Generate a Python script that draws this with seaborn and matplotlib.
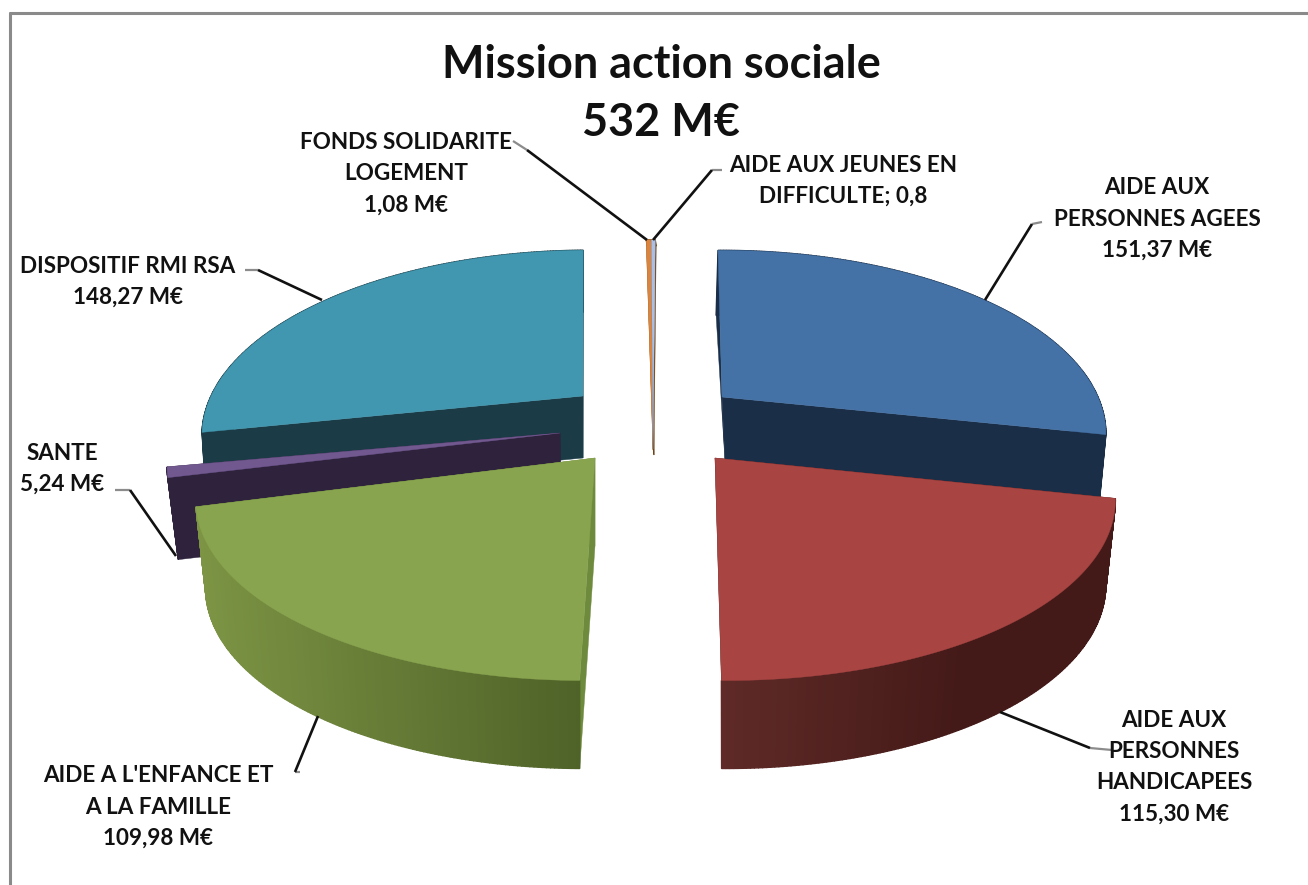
import numpy as np
import matplotlib
matplotlib.use("Agg")
import matplotlib.pyplot as plt
import seaborn as sns

# --- data
names = ["AIDE AUX\nPERSONNES AGEES", "AIDE AUX\nPERSONNES\nHANDICAPEES",
         "AIDE A L'ENFANCE ET\nA LA FAMILLE", "SANTE", "DISPOSITIF RMI RSA",
         "FONDS SOLIDARITE\nLOGEMENT", "AIDE AUX JEUNES EN\nDIFFICULTE"]
values = [151.37, 115.30, 109.98, 5.24, 148.27, 1.08, 0.8]
title_lines = ["Mission action sociale", "532 M€"]

# --- style
top_colors = ["#4472A6", "#A84442", "#88A44F", "#71588F", "#4197AF", "#DB843D", "#A9BFE6"]
wall_left = ["#1B2E47", "#5F2A27", "#7C9444", "#2E223D", "#1B3B47", "#6E4215", "#6E4215"]
wall_right = ["#1B2E47", "#441A18", "#4F6228", "#2E223D", "#1B3B47", "#6E4215", "#6E4215"]
face_colors = ["#1B2E47", "#441A18", "#6E8A3C", "#2E223D", "#1B3B47", "#6E4215", "#6E4215"]
shade_span = [None, (722, 952), (205, 580), None, None, None, None]
persp = 0.2
#            cx,  cy,  rx,  ry, depth, dx, k,  turn, shear, shear_bottom
geometry = [(722, 397, 376, 176, 65, 3, 0.973, 0.7, 0.7, 5.7),
            (715, 458, 390, 178, 88, 7, 0.962, 0.0, 11.0, 4.0),
            (595, 458, 389, 178, 88, 0, 0.975, 0.0, -10.8, -10.8),
            (560, 433, 385, 163, 82, 1, 0.975, 0.0, 0.0, -1.0),
            (583, 396, 372, 175, 62, 0, 0.990, 0.0, -6.5, -6.5),
            (653, 449, 486, 251, 6, 1, 1.0, 0.0, -1.5, -1.5),
            (653, 449, 486, 251, 6, 1, 1.0, 0.0, -1.5, -1.5)]
draw_order = [0, 4, 5, 6, 3, 1, 2]
start_angle = 89.9

sns.set_theme(style="white", rc={"axes.facecolor": "white", "figure.facecolor": "white"})
plt.rcParams["font.family"] = ["Lato", "DejaVu Sans"]

fig = plt.figure(figsize=(13.08, 8.85), dpi=100)
ax = fig.add_axes([0, 0, 1, 1])
ax.set_xlim(0, 1308)
ax.set_ylim(885, 0)
ax.axis("off")

sweep = np.array(values) / np.sum(values) * 360
ends = start_angle - np.cumsum(sweep)
starts = ends + sweep


def arc(theta, g, bottom=False):
    cx, cy, rx, ry, depth, dx, k, turn, sh, shb = g
    t = np.radians(theta)
    s, c = np.sin(t), np.cos(t)
    w = 1 + persp * s
    if bottom:
        return cx + dx + k * rx * c / w - shb * s, cy + depth - ry * s / w
    return cx + rx * c / w - sh * s, cy - ry * s / w


for layer, i in enumerate(draw_order):
    g = geometry[i]
    z = layer + 1
    a0, a1 = starts[i] + g[7], ends[i] + g[7]
    # radial faces
    for a in (a0, a1):
        xa, ya = arc(a, g)
        xc, yc = arc(a, g, bottom=True)
        ax.fill([g[0], xa, xc, g[0] + g[5]], [g[1], ya, yc, g[1] + g[4]],
                color=face_colors[i], lw=0.3, zorder=z)
    # outer wall: strips shaded from left to right of the picture
    n = max(2, int(abs(a0 - a1)) * 2)
    th = np.linspace(a0, a1, n + 1)
    xt, yt = arc(th, g)
    xb, yb = arc(th, g, bottom=True)
    pal = sns.blend_palette([wall_left[i], wall_right[i]], 200)
    lo, hi = shade_span[i] if shade_span[i] else (0, 1)
    for j in range(n):
        mid = 0.5 * (xb[j] + xb[j + 1])
        col = pal[int(np.clip((mid - lo) / (hi - lo) * 199, 0, 199))]
        ax.fill([xt[j], xt[j + 1], xb[j + 1], xb[j]], [yt[j], yt[j + 1], yb[j + 1], yb[j]],
                color=col, lw=1.0, zorder=z)
    # top surface
    th = np.linspace(a0, a1, 240)
    xt, yt = arc(th, g)
    ax.fill(np.r_[g[0], xt], np.r_[g[1], yt], color=top_colors[i], lw=0.3, zorder=z)

# leader lines (elbow then diagonal)
leaders = [[(1042, 222), (1032, 224), (985, 300)],
           [(1112, 750), (1090, 748), (1000, 712)],
           [(300, 772), (295, 772), (318, 716)],
           [(115, 490), (130, 490), (176, 556)],
           [(245, 270), (258, 270), (322, 300)],
           [(513, 141), (527, 150), (647, 240)],
           [(722, 170), (712, 170), (653, 240)]]
for pts in leaders:
    xs, ys = zip(*pts)
    ax.plot(xs[:2], ys[:2], color="#8c8c8c", lw=1.6, zorder=20, solid_capstyle="butt")
    ax.plot(xs[1:], ys[1:], color="#111111", lw=1.9, zorder=20, solid_capstyle="butt")


def fmt(v):
    return f"{v:.2f} M€".replace(".", ",")


label_xy = [(1157, 219), (1174, 767), (158, 807), (62, 469), (128, 282), (406, 174), (843, 181)]
label_txt = [f"{n}\n{fmt(v)}" for n, v in zip(names, values)]
label_txt[6] = f"{names[6]}; {str(values[6]).replace('.', ',')}"
for (x, y), t in zip(label_xy, label_txt):
    ax.text(x, y, t, ha="center", va="center", fontsize=16.2, fontweight="bold",
            color="#111111", linespacing=1.6, zorder=30)

ax.text(661, 65, title_lines[0], ha="center", va="center", fontsize=32.4, fontweight="bold", color="#111111")
ax.text(661, 123, title_lines[1], ha="center", va="center", fontsize=32.4, fontweight="bold", color="#111111")

# chart frame (top and left edges are visible)
ax.plot([9.5, 1308], [12.5, 12.5], color="#8a8a8a", lw=2.2, zorder=40)
ax.plot([9.5, 9.5], [12.5, 885], color="#8a8a8a", lw=2.2, zorder=40)

fig.savefig("out.png", dpi=100)
